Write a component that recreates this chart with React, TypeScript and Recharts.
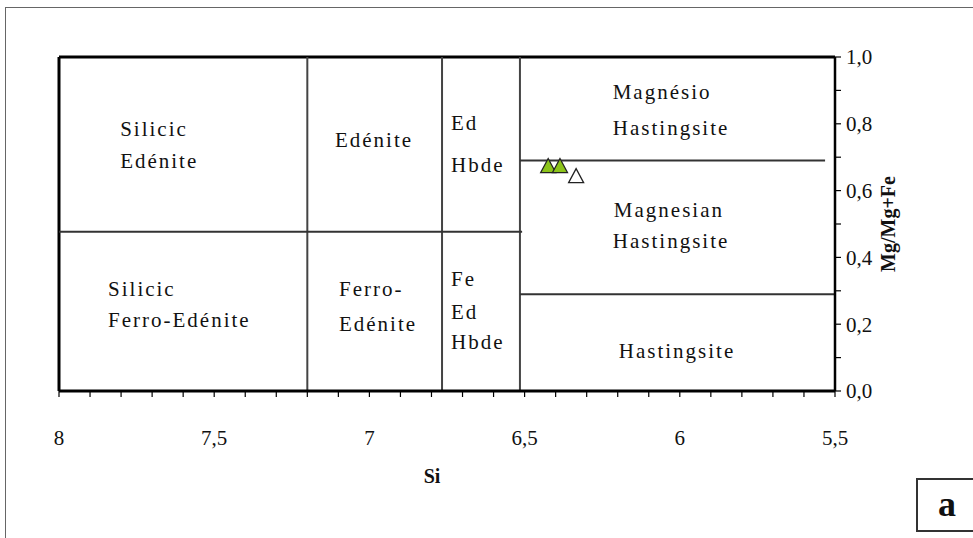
import React from 'react';
import { ScatterChart, Scatter, XAxis, YAxis, ReferenceLine } from 'recharts';

// Axis ticks (Si on reversed x axis, Mg/(Mg+Fe) on right y axis)
const siTicks = [5.5, 5.6, 5.7, 5.8, 5.9, 6.0, 6.1, 6.2, 6.3, 6.4, 6.5, 6.6, 6.7, 6.8, 6.9, 7.0, 7.1, 7.2, 7.3, 7.4, 7.5, 7.6, 7.7, 7.8, 7.9, 8.0];
const siLabelTicks = [5.5, 6.0, 6.5, 7.0, 7.5, 8.0];
const mgTicks = [0, 0.1, 0.2, 0.3, 0.4, 0.5, 0.6, 0.7, 0.8, 0.9, 1.0];
const mgLabelTicks = [0, 0.2, 0.4, 0.6, 0.8, 1.0];

// Samples
const greenSamples = [
  { si: 6.424, mg: 0.675 },
  { si: 6.386, mg: 0.675 },
];
const whiteSamples = [{ si: 6.334, mg: 0.645 }];

// Field boundaries
const verticalBoundaries = [7.2, 6.766, 6.515];
const boundarySegments = [
  { si1: 8.0, si2: 6.508, mg: 0.477 },
  { si1: 6.515, si2: 5.532, mg: 0.69 },
  { si1: 6.515, si2: 5.5, mg: 0.29 },
];

// Field names (anchor points in data coordinates)
const leftFieldNames = [
  { si: 7.803, mg: 0.764, text: 'Silicic' },
  { si: 7.803, mg: 0.669, text: 'Edénite' },
  { si: 7.111, mg: 0.731, text: 'Edénite' },
  { si: 6.737, mg: 0.782, text: 'Ed' },
  { si: 6.737, mg: 0.657, text: 'Hbde' },
  { si: 7.842, mg: 0.284, text: 'Silicic' },
  { si: 7.842, mg: 0.191, text: 'Ferro-Edénite' },
  { si: 7.098, mg: 0.284, text: 'Ferro-' },
  { si: 7.098, mg: 0.179, text: 'Edénite' },
  { si: 6.737, mg: 0.313, text: 'Fe' },
  { si: 6.737, mg: 0.215, text: 'Ed' },
  { si: 6.737, mg: 0.125, text: 'Hbde' },
];
const rightFieldNames = [
  { si: 6.057, mg: 0.875, text: 'Magnésio' },
  { si: 6.028, mg: 0.767, text: 'Hastingsite' },
  { si: 6.035, mg: 0.522, text: 'Magnesian' },
  { si: 6.028, mg: 0.427, text: 'Hastingsite' },
  { si: 6.009, mg: 0.099, text: 'Hastingsite' },
];

const FONT = "'Liberation Serif', 'DejaVu Serif', 'Times New Roman', Times, serif";

const fmt = (v: number, labels: number[], digits: number) =>
  labels.some((l) => Math.abs(l - v) < 1e-6)
    ? (digits === 0 && Math.abs(v - Math.round(v)) < 1e-6 ? String(Math.round(v)) : v.toFixed(1)).replace('.', ',')
    : '';

const Triangle = (fill: string) => (props: any) => {
  const { cx, cy } = props;
  if (cx == null || cy == null) return null;
  const w = 7.5;
  const h = 14;
  return (
    <polygon
      points={`${cx},${cy - h / 2} ${cx - w},${cy + h / 2} ${cx + w},${cy + h / 2}`}
      fill={fill}
      stroke="#222"
      strokeWidth={1.3}
    />
  );
};

const FieldText = (anchor: 'start' | 'middle') => (props: any) => {
  const { cx, cy, payload } = props;
  if (cx == null || cy == null) return null;
  return (
    <text x={cx} y={cy} textAnchor={anchor} style={{ fontFamily: FONT }} fontSize={21} letterSpacing={2} fill="#111">
      {payload.text}
    </text>
  );
};

export default function App() {
  return (
    <div style={{ position: 'fixed', left: 0, top: 0, width: 973, height: 538, background: '#fff', overflow: 'hidden', fontFamily: FONT }}>
      <div style={{ position: 'absolute', left: 5, top: 7, width: 980, height: 540, border: '1.5px solid #666', boxSizing: 'border-box' }} />
      <div
        style={{
          position: 'absolute',
          left: 916,
          top: 478,
          width: 70,
          height: 54,
          border: '2px solid #333',
          boxSizing: 'border-box',
          background: '#fff',
        }}
      >
        <span
          style={{
            position: 'absolute',
            left: 29,
            top: 2,
            transform: 'translateX(-50%)',
            fontFamily: FONT,
            fontWeight: 'bold',
            fontSize: 36,
            lineHeight: '44px',
            color: '#111',
          }}
        >
          a
        </span>
      </div>
      <div style={{ position: 'absolute', left: 0, top: 0 }}>
        <ScatterChart width={973} height={538} margin={{ top: 57, left: 59, right: 38, bottom: 47 }} style={{ fontFamily: FONT }}>
          <XAxis
            type="number"
            dataKey="si"
            domain={[5.5, 8]}
            reversed
            ticks={siTicks}
            interval={0}
            height={100}
            tickSize={6}
            tickMargin={33}
            tickLine={{ stroke: '#000', strokeWidth: 1.2 }}
            axisLine={{ stroke: '#000', strokeWidth: 3 }}
            tick={{ fill: '#111', fontSize: 21, style: { fontFamily: FONT } }}
            tickFormatter={(v: number) => fmt(v, siLabelTicks, 0)}
            label={{
              value: 'Si',
              position: 'insideBottom',
              offset: 8,
              dx: -15,
              style: { fontFamily: FONT, fontWeight: 'bold', fontSize: 20, fill: '#111' },
            }}
          />
          <YAxis
            type="number"
            dataKey="mg"
            orientation="right"
            domain={[0, 1]}
            ticks={mgTicks}
            interval={0}
            width={100}
            tickSize={6}
            tickMargin={5}
            tickLine={{ stroke: '#000', strokeWidth: 1.2 }}
            axisLine={{ stroke: '#000', strokeWidth: 2.5 }}
            tick={{ fill: '#111', fontSize: 21, style: { fontFamily: FONT } }}
            tickFormatter={(v: number) => fmt(v, mgLabelTicks, 1)}
            label={{
              value: 'Mg/Mg+Fe',
              angle: -90,
              position: 'insideRight',
              offset: 47,
              style: { fontFamily: FONT, fontWeight: 'bold', fontSize: 20, fill: '#111', textAnchor: 'middle' },
            }}
          />
          <ReferenceLine y={1} stroke="#000" strokeWidth={3} />
          <ReferenceLine x={8} stroke="#000" strokeWidth={3} />
          {verticalBoundaries.map((v) => (
            <ReferenceLine key={`v${v}`} x={v} stroke="#444" strokeWidth={2} />
          ))}
          {boundarySegments.map((s, i) => (
            <ReferenceLine
              key={`s${i}`}
              segment={[
                { x: s.si1, y: s.mg },
                { x: s.si2, y: s.mg },
              ]}
              stroke="#333"
              strokeWidth={2}
            />
          ))}
          <Scatter data={leftFieldNames} shape={FieldText('start')} isAnimationActive={false} />
          <Scatter data={rightFieldNames} shape={FieldText('middle')} isAnimationActive={false} />
          <Scatter data={greenSamples} shape={Triangle('#8cc41a')} isAnimationActive={false} />
          <Scatter data={whiteSamples} shape={Triangle('#ffffff')} isAnimationActive={false} />
        </ScatterChart>
      </div>
    </div>
  );
}
